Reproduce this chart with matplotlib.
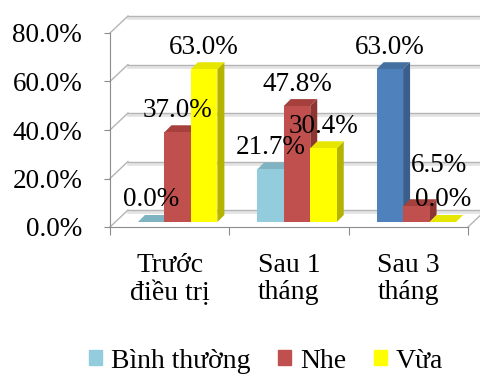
import matplotlib
matplotlib.use("Agg")
import matplotlib.pyplot as plt
import numpy as np
from matplotlib.patches import Polygon, Patch
from matplotlib.transforms import ScaledTranslation

categories = ["Trước\nđiều trị", "Sau 1\ntháng", "Sau 3\ntháng"]
series = ["Bình thường", "Nhe", "Vừa"]
binh_thuong = [0.0, 21.7, 63.0]
nhe = [37.0, 47.8, 6.5]
vua = [63.0, 30.4, 0.0]
yticks = [0, 20, 40, 60, 80]

# face, top, side colours for each series
colors = {
    "Bình thường": ("#93CDDD", "#7FB3C2", "#6E9DAA"),
    "Nhe": ("#C0504D", "#A5403D", "#8E3532"),
    "Vừa": ("#FFFF00", "#E6E600", "#B3B300"),
}
# the last "Bình thường" bar was recoloured in the original workbook
special = {("Bình thường", 2): ("#4F81BD", "#44709F", "#3A5F8C")}

plt.rcParams["font.family"] = ["Liberation Serif", "DejaVu Serif"]

fig = plt.figure(figsize=(4.8, 3.74), dpi=100)
ax = fig.add_axes([110 / 480, 1 - 227 / 374, 358 / 480, 194 / 374])
ax.set_xlim(-0.5, 2.5)
ax.set_ylim(0, 80)
ax.patch.set_alpha(0)

WALL = (18, 17)     # depth of the chart box, pixels
BAR_SHIFT = (8, 5)  # bars sit half way back
BAR_DEPTH = (7, 7)


def shifted(x, y, dx, dy):
    p = ax.transData.transform((x, y)) + np.array([dx, dy])
    return ax.transData.inverted().transform(p)


# back wall, left wall and floor
for v in yticks:
    a = shifted(-0.5, v, *WALL)
    b = shifted(2.5, v, *WALL)
    a2 = shifted(-0.5, v, WALL[0], WALL[1] - 2)
    b2 = shifted(2.5, v, WALL[0], WALL[1] - 2)
    ax.plot([a2[0], b2[0]], [a2[1], b2[1]], color="#E4E4E4", lw=2, clip_on=False, zorder=0)
    ax.plot([a[0], b[0]], [a[1], b[1]], color="#B5B5B5", lw=1, clip_on=False, zorder=1)
    ax.plot([-0.5, a[0]], [v, a[1]], color="#B5B5B5", lw=1, clip_on=False, zorder=1)
r = shifted(2.5, 0, *WALL)
ax.plot([2.5, r[0]], [0, r[1]], color="#B5B5B5", lw=1, clip_on=False, zorder=1)

# bars with their side and top faces
width = 0.222
values = [binh_thuong, nhe, vua]
offset = ScaledTranslation(BAR_SHIFT[0] / 100, BAR_SHIFT[1] / 100, fig.dpi_scale_trans)
z = 3
for i in range(len(categories)):
    for k, name in enumerate(series):
        h = values[k][i]
        face, top, side = special.get((name, i), colors[name])
        x0 = i + (k - 1) * width - width / 2
        x1 = x0 + width
        sx, sy = BAR_SHIFT
        dx, dy = BAR_DEPTH
        p_bl = shifted(x0, h, sx, sy)
        p_br = shifted(x1, h, sx, sy)
        p_b0 = shifted(x1, 0, sx, sy)
        top_poly = [p_bl, p_br, shifted(x1, h, sx + dx, sy + dy), shifted(x0, h, sx + dx, sy + dy)]
        side_poly = [p_b0, p_br, shifted(x1, h, sx + dx, sy + dy), shifted(x1, 0, sx + dx, sy + dy)]
        ax.add_patch(Polygon(side_poly, closed=True, facecolor=side, edgecolor="none",
                             zorder=z, clip_on=False))
        ax.add_patch(Polygon(top_poly, closed=True, facecolor=top, edgecolor="none",
                             zorder=z, clip_on=False))
        ax.bar(x0, h, width=width, align="edge", color=face, zorder=z + 1,
               transform=ax.transData + offset, clip_on=False)
        z += 2

# data labels, nudged where they would collide
nudge = {("Nhe", 2): (23, 19)}
for i in range(len(categories)):
    for k, name in enumerate(series):
        h = values[k][i]
        xc = i + (k - 1) * width
        ndx, ndy = nudge.get((name, i), (0, 0))
        ax.annotate(f"{h:.1f}%", (xc, h), xytext=(BAR_SHIFT[0] + ndx, BAR_SHIFT[1] + 22 + ndy),
                    textcoords="offset pixels", ha="center", va="center",
                    fontsize=19.5, zorder=50, annotation_clip=False)

# axes
for s in ["top", "right"]:
    ax.spines[s].set_visible(False)
for s in ["left", "bottom"]:
    ax.spines[s].set_color("#8C8C8C")
    ax.spines[s].set_zorder(2)
ax.set_yticks(yticks)
ax.set_yticklabels([f"{v:.1f}%" for v in yticks])
ax.tick_params(axis="y", length=4, color="#8C8C8C", pad=16, labelsize=19.5)
ax.set_xticks([-0.5, 0.5, 1.5, 2.5])
ax.set_xticklabels([])
ax.set_xticks(range(len(categories)), minor=True)
ax.set_xticklabels(categories, minor=True, linespacing=1.1)
ax.tick_params(axis="x", which="major", length=6, color="#8C8C8C")
ax.tick_params(axis="x", which="minor", length=0, pad=19, labelsize=20)

handles = [Patch(color=colors[n][0]) for n in series]
fig.legend(handles, series, loc="center", bbox_to_anchor=(266 / 480, 1 - 361 / 374),
           ncol=3, frameon=False, fontsize=20, handlelength=0.47, handleheight=0.47,
           handletextpad=0.32, columnspacing=1.0, borderpad=0)

fig.savefig("out.png", dpi=100)
